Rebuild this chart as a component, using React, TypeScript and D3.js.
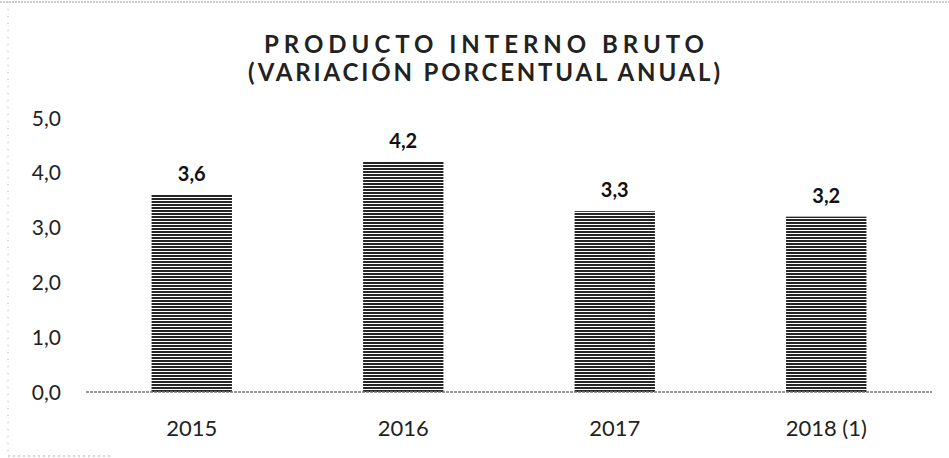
import React from "react";
import * as d3 from "d3";

const categories = ["2015", "2016", "2017", "2018 (1)"];
const values = [3.6, 4.2, 3.3, 3.2];
const valueLabels = ["3,6", "4,2", "3,3", "3,2"];
const yTicks = [0, 1, 2, 3, 4, 5];
const titleLines = ["PRODUCTO INTERNO BRUTO", "(VARIACIÓN PORCENTUAL ANUAL)"];

const W = 949;
const H = 458;
const plot = { left: 86, right: 932, top: 118, bottom: 392 };

export default function App() {
  const x = d3.scaleBand<string>().domain(categories).range([plot.left, plot.right]).paddingInner(0.62).paddingOuter(0.31);
  const y = d3.scaleLinear().domain([0, 5]).range([plot.bottom, plot.top]);
  const fmt = (v: number) => d3.format(".1f")(v).replace(".", ",");
  const font = "Lato, 'Noto Sans', 'Open Sans', sans-serif";

  return (
    <svg width={W} height={H} style={{ position: "absolute", left: 0, top: 0, background: "#fff" }} fontFamily={font}>
      <defs>
        <pattern id="hatch" patternUnits="userSpaceOnUse" width={8} height={3}>
          <rect x={0} y={0} width={8} height={3} fill="#fff" />
          <rect x={0} y={0} width={8} height={2} fill="#262626" />
        </pattern>
      </defs>
      <rect x={0} y={0} width={W} height={H} fill="#fff" />
      {/* scanned border remnants */}
      <line x1={0} y1={2} x2={W} y2={2} stroke="#999" strokeWidth={1} strokeDasharray="2,1" />
      <line x1={8} y1={2} x2={8} y2={456} stroke="#aaa" strokeWidth={1} strokeDasharray="1,6" />
      <line x1={8} y1={456} x2={110} y2={456} stroke="#aaa" strokeWidth={1} strokeDasharray="2,3" />

      {titleLines.map((t, i) => (
        <text key={t} x={484} y={53 + i * 28} textAnchor="middle" fontSize={24} fontWeight="bold" fill="#222"
          textLength={i === 0 ? 440 : 472} lengthAdjust="spacing">
          {t}
        </text>
      ))}

      {yTicks.map((t) => (
        <text key={t} x={61} y={y(t)} dy="0.36em" textAnchor="end" fontSize={21} fill="#222">
          {fmt(t)}
        </text>
      ))}

      {categories.map((c, i) => (
        <g key={c}>
          <rect x={x(c)!} y={y(values[i])} width={x.bandwidth()} height={y(0) - y(values[i])} fill="url(#hatch)" />
          <text x={x(c)! + x.bandwidth() / 2} y={y(values[i]) - 14} textAnchor="middle" fontSize={20} fontWeight="bold" fill="#111">
            {valueLabels[i]}
          </text>
          <text x={x(c)! + x.bandwidth() / 2} y={428} dy="0.36em" textAnchor="middle" fontSize={22} fill="#222">
            {c}
          </text>
        </g>
      ))}

      <line x1={plot.left} y1={y(0)} x2={plot.right} y2={y(0)} stroke="#777" strokeWidth={1.5} strokeDasharray="3,1" />
    </svg>
  );
}
